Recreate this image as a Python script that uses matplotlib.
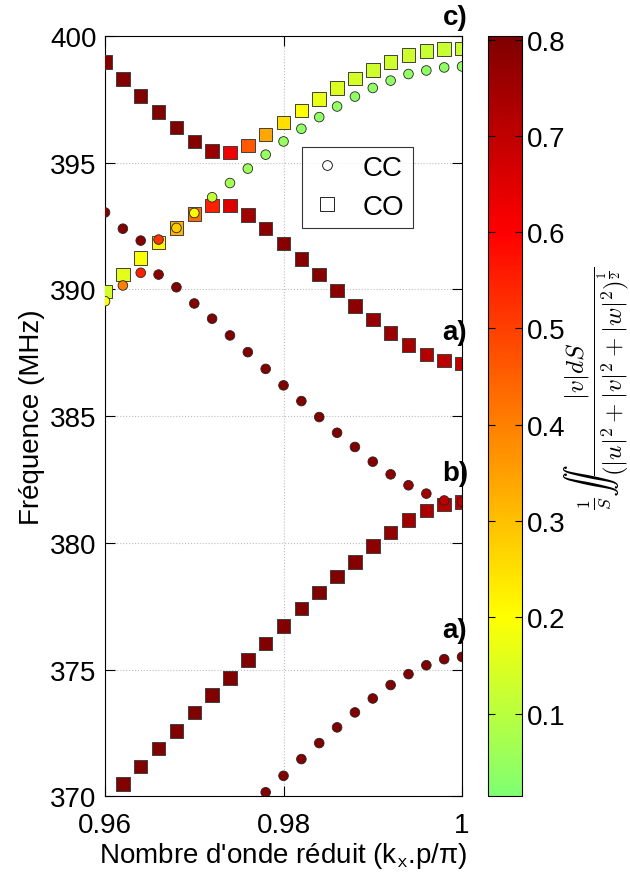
import numpy as np
import matplotlib
matplotlib.use('Agg')
import matplotlib.pyplot as plt
from matplotlib.colors import LinearSegmentedColormap
from matplotlib.lines import Line2D

plt.rcParams['font.family'] = ['Liberation Sans', 'DejaVu Sans']
plt.rcParams['mathtext.fontset'] = 'cm'

# reduced wavenumber (kx.p/pi)
k = [0.960, 0.962, 0.964, 0.966, 0.968, 0.970, 0.972, 0.974, 0.976, 0.978, 0.980,
     0.982, 0.984, 0.986, 0.988, 0.990, 0.992, 0.994, 0.996, 0.998, 1.000]

nan = np.nan

# CO modes (squares): frequency (MHz) and polarisation ratio
co1_f = [398.96, 398.29, 397.63, 397.00, 396.38, 395.83, 395.45, 395.40, 395.67, 396.10, 396.58,
         397.05, 397.51, 397.93, 398.31, 398.65, 398.96, 399.23, 399.39, 399.47, 399.49]
co1_c = [0.80, 0.80, 0.80, 0.80, 0.80, 0.79, 0.76, 0.62, 0.46, 0.34, 0.25,
         0.20, 0.17, 0.15, 0.14, 0.13, 0.13, 0.13, 0.12, 0.12, 0.12]
co2_f = [389.92, 390.58, 391.24, 391.85, 392.42, 392.97, 393.30, 393.30, 392.92, 392.39, 391.80,
         391.20, 390.58, 389.96, 389.35, 388.81, 388.28, 387.81, 387.43, 387.19, 387.07]
co2_c = [0.14, 0.16, 0.19, 0.21, 0.32, 0.43, 0.55, 0.65, 0.75, 0.78, 0.79,
         0.79, 0.79, 0.78, 0.78, 0.77, 0.76, 0.74, 0.72, 0.71, 0.70]
co3_f = [nan, 370.48, 371.18, 371.89, 372.58, 373.31, 373.99, 374.66, 375.37, 376.03, 376.72,
         377.41, 378.04, 378.67, 379.25, 379.87, 380.40, 380.89, 381.28, 381.52, 381.61]
co3_c = [0.80, 0.80, 0.80, 0.80, 0.80, 0.80, 0.80, 0.80, 0.80, 0.80, 0.80,
         0.80, 0.80, 0.80, 0.79, 0.78, 0.77, 0.75, 0.73, 0.72, 0.71]

# CC modes (circles)
cc1_f = [393.03, 392.39, 391.92, 391.96, 392.42, 393.01, 393.63, 394.19, 394.76, 395.31, 395.83,
         396.33, 396.79, 397.21, 397.60, 397.94, 398.23, 398.49, 398.63, 398.75, 398.79]
cc1_c = [0.80, 0.80, 0.79, 0.52, 0.28, 0.20, 0.11, 0.07, 0.06, 0.05, 0.05,
         0.04, 0.04, 0.04, 0.04, 0.04, 0.04, 0.04, 0.04, 0.04, 0.04]
cc2_f = [389.53, 390.15, 390.65, 390.58, 390.08, 389.44, 388.84, 388.18, 387.52, 386.86, 386.21,
         385.59, 384.96, 384.34, 383.78, 383.20, 382.70, 382.27, 381.94, 381.67, 381.62]
cc2_c = [0.20, 0.40, 0.55, 0.78, 0.80, 0.80, 0.80, 0.80, 0.80, 0.80, 0.80,
         0.80, 0.80, 0.80, 0.80, 0.79, 0.78, 0.77, 0.75, 0.71, 0.70]
cc3_f = [nan, nan, nan, nan, nan, nan, nan, nan, nan, 370.16, 370.81,
         371.47, 372.10, 372.72, 373.31, 373.86, 374.39, 374.82, 375.17, 375.41, 375.50]
cc3_c = [0.80] * 21

cmin, cmax = 0.014, 0.804
cmap = LinearSegmentedColormap.from_list('gyr', [
    ((0.0), (0.5, 1.0, 0.45)),
    (((0.2 - cmin) / (cmax - cmin)), (1.0, 1.0, 0.0)),
    (((0.6 - cmin) / (cmax - cmin)), (1.0, 0.0, 0.0)),
    ((1.0), (0.5, 0.0, 0.0)),
])

fig = plt.figure(figsize=(6.3, 8.79), dpi=100)
ax = fig.add_axes([0.1667, 0.0929, 0.5667, 0.8653])
cax = fig.add_axes([0.7751, 0.0929, 0.054, 0.8653])

for f, c in [(co1_f, co1_c), (co2_f, co2_c), (co3_f, co3_c)]:
    sc = ax.scatter(k, f, c=c, cmap=cmap, vmin=cmin, vmax=cmax, marker='s', s=95,
                    edgecolors='0.25', linewidths=0.7, zorder=3)
for f, c in [(cc1_f, cc1_c), (cc2_f, cc2_c), (cc3_f, cc3_c)]:
    ax.scatter(k, f, c=c, cmap=cmap, vmin=cmin, vmax=cmax, marker='o', s=48,
               edgecolors='0.15', linewidths=0.6, zorder=4)

ax.set_xlim(0.96, 1.0)
ax.set_ylim(370, 400)
ax.set_xticks([0.96, 0.98, 1.0])
ax.set_xticklabels(['0.96', '0.98', '1'])
ax.set_yticks([370, 375, 380, 385, 390, 395, 400])
ax.grid(True, linestyle=':', color='0.75', linewidth=0.8)
ax.set_axisbelow(True)
ax.tick_params(direction='in', top=True, right=True, length=7, labelsize=20, pad=6)
ax.tick_params(axis='x', pad=11)
for s in ax.spines.values():
    s.set_linewidth(0.8)

ax.set_xlabel("Nombre d'onde réduit (k$_\\mathsf{x}$.p/π)", fontsize=20, labelpad=2)
ax.set_ylabel('Fréquence (MHz)', fontsize=20, labelpad=4)

for lab, ly in [('c)', 400.74), ('a)', 388.33), ('b)', 382.74), ('a)', 376.55)]:
    ax.text(0.9992, ly, lab, fontsize=20, fontweight='bold', ha='center', va='center',
            clip_on=False, zorder=5)

handles = [Line2D([], [], marker='o', linestyle='none', markerfacecolor='white',
                  markeredgecolor='black', markersize=7, markeredgewidth=0.6),
           Line2D([], [], marker='s', linestyle='none', markerfacecolor='white',
                  markeredgecolor='black', markersize=10, markeredgewidth=0.6)]
leg = ax.legend(handles, ['CC', 'CO'], loc='upper left', bbox_to_anchor=(0.551, 0.854),
                fontsize=20, frameon=True, fancybox=False, edgecolor='black',
                borderpad=0.3, labelspacing=0.45, handlelength=1.2, handletextpad=0.7,
                borderaxespad=0)
leg.get_frame().set_linewidth(0.8)
leg.set_zorder(6)

cb = fig.colorbar(sc, cax=cax)
cb.set_ticks([0.1, 0.2, 0.3, 0.4, 0.5, 0.6, 0.7, 0.8])
cb.ax.tick_params(direction='in', length=5, labelsize=20, left=True, right=True)
cb.outline.set_linewidth(0.8)

# colorbar label placed by hand so it stays inside the figure
fig.text(0.947, 0.558,
         r'$\frac{1}{S}\int\!\!\int\dfrac{|v|dS}{(|u|^2+|v|^2+|w|^2)^{\frac{1}{2}}}$',
         fontsize=18, rotation=90, ha='center', va='center')

fig.savefig('out.png', dpi=100)
